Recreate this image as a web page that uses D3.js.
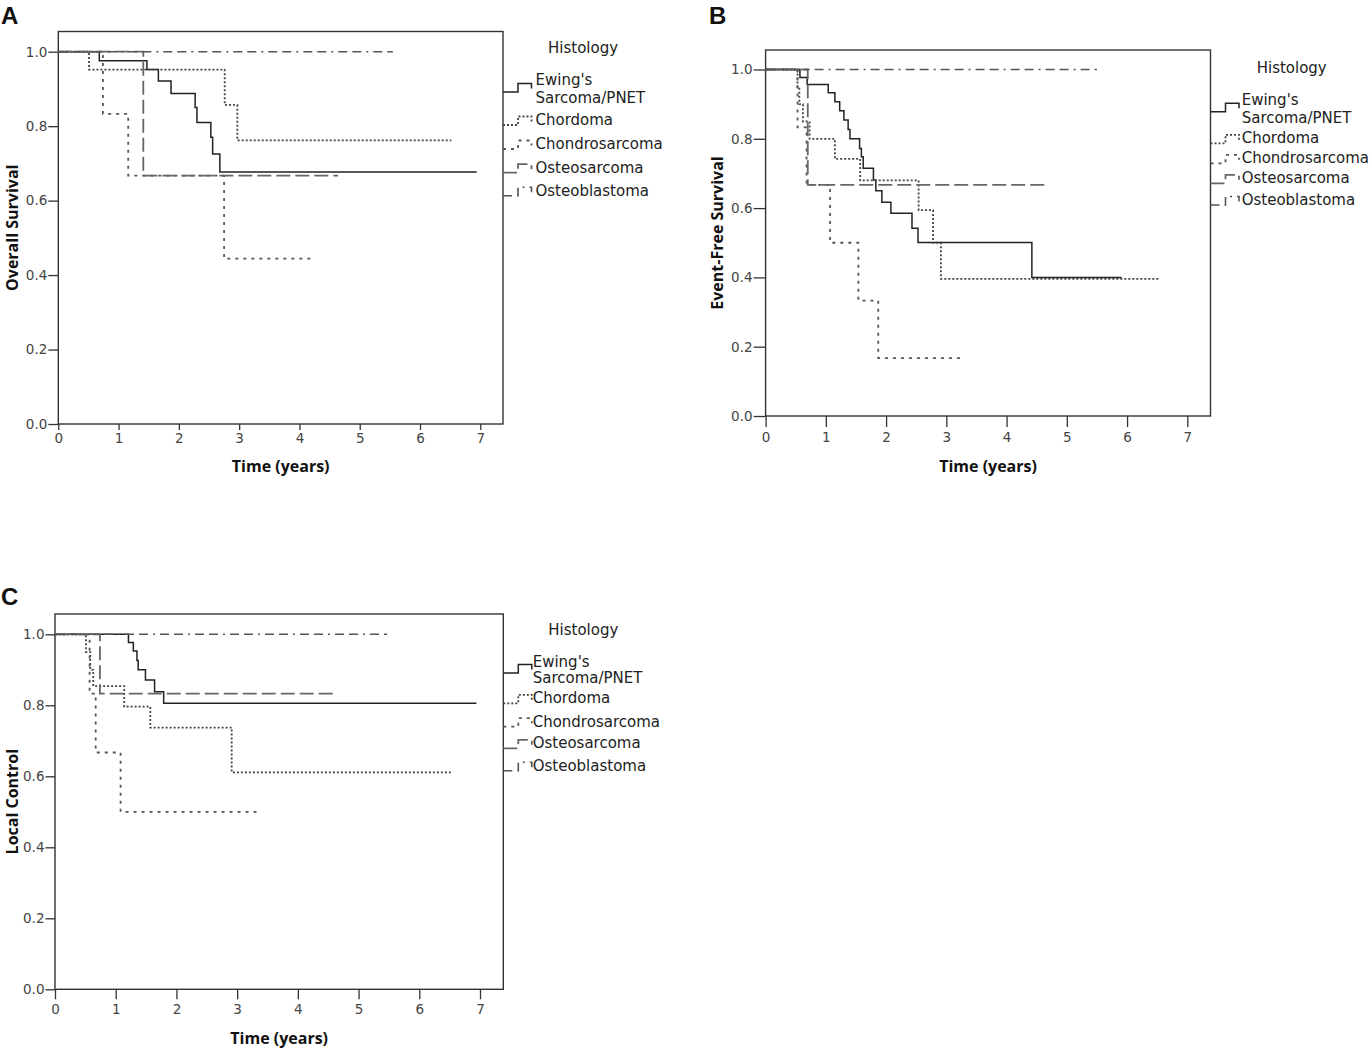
<!DOCTYPE html>
<html>
<head>
<meta charset="utf-8">
<script src="https://cdn.jsdelivr.net/npm/d3@7"></script>
<style>
  body { margin: 0; background: #fff; }
  .tick text { font-family: "DejaVu Sans", sans-serif; font-size: 13.5px; fill: #444; }
  .tick line { stroke: #333; stroke-width: 1.3; }
  .axis-title { font-family: "Open Sans", sans-serif; font-weight: bold; font-size: 16px; fill: #111; }
  .legend text { font-family: "DejaVu Sans", sans-serif; font-size: 15px; fill: #222; }
  .panel-label { font-family: "Liberation Sans", Arial, sans-serif; font-weight: bold; font-size: 24px; fill: #111; }
</style>
</head>
<body>
<script>
// histology groups, same order in every panel
var groups = ["Ewing's Sarcoma/PNET", "Chordoma", "Chondrosarcoma", "Osteosarcoma", "Osteoblastoma"];
var xTicks = [0, 1, 2, 3, 4, 5, 6, 7];
var yTicks = [0, 0.2, 0.4, 0.6, 0.8, 1.0];

// A: overall survival, step times (years) and survival after each step
var osTimes = [
    [0, 0.68, 1.47, 1.66, 1.87, 2.27, 2.30, 2.53, 2.56, 2.68, 6.94],
    [0, 0.51, 2.76, 2.97, 6.52],
    [0, 0.74, 1.16, 2.75, 4.23],
    [0, 1.41, 4.64],
    [0, 5.55]
];
var osSurv = [
    [1, 0.976, 0.952, 0.921, 0.888, 0.85, 0.81, 0.77, 0.725, 0.677, 0.677],
    [1, 0.952, 0.857, 0.762, 0.762],
    [1, 0.833, 0.667, 0.444, 0.444],
    [1, 0.667, 0.667],
    [1, 1]
];

// B: event-free survival
var efsTimes = [
    [0, 0.57, 0.69, 1.04, 1.15, 1.23, 1.30, 1.37, 1.40, 1.56, 1.59, 1.62, 1.79, 1.83, 1.93, 2.08, 2.43, 2.53, 4.42, 5.91],
    [0, 0.53, 0.56, 0.62, 0.73, 1.15, 1.57, 2.54, 2.78, 2.91, 6.52],
    [0, 0.53, 0.68, 1.07, 1.54, 1.87, 3.25],
    [0, 0.70, 4.66],
    [0, 5.50]
];
var efsSurv = [
    [1, 0.977, 0.957, 0.933, 0.907, 0.881, 0.854, 0.827, 0.80, 0.772, 0.748, 0.715, 0.681, 0.65, 0.617, 0.585, 0.542, 0.501, 0.40, 0.40],
    [1, 0.95, 0.90, 0.85, 0.80, 0.742, 0.68, 0.594, 0.50, 0.396, 0.396],
    [1, 0.833, 0.667, 0.5, 0.333, 0.167, 0.167],
    [1, 0.667, 0.667],
    [1, 1]
];

// C: local control
var lcTimes = [
    [0, 1.21, 1.29, 1.35, 1.37, 1.49, 1.64, 1.79, 6.94],
    [0, 0.51, 0.58, 0.63, 1.14, 1.57, 2.91, 6.52],
    [0, 0.57, 0.67, 1.08, 3.32],
    [0, 0.74, 4.64],
    [0, 5.47]
];
var lcSurv = [
    [1, 0.977, 0.953, 0.926, 0.90, 0.871, 0.838, 0.806, 0.806],
    [1, 0.95, 0.90, 0.854, 0.796, 0.737, 0.611, 0.611],
    [1, 0.833, 0.667, 0.5, 0.5],
    [1, 0.833, 0.833],
    [1, 1]
];

// line look per group
var strokes = ["#222", "#444", "#555", "#666", "#555"];
var dashes = [null, "2,2", "3,5", "14,5", "9,5,9,5,2,5"];
var widths = [1.5, 1.8, 1.8, 1.8, 1.6];

var svg = d3.select("body").append("svg")
    .attr("width", 1371)
    .attr("height", 1056);

function drawPanel(p, times, surv) {
    var x = d3.scaleLinear().domain([0, 7]).range([p.left, p.x7]);
    var y = d3.scaleLinear().domain([0, 1]).range([p.bottom, p.y1]);

    //panel letter
    svg.append("text").attr("class", "panel-label")
        .attr("x", p.labelX).attr("y", p.labelY).text(p.label);

    //frame
    svg.append("rect")
        .attr("x", p.left).attr("y", p.top)
        .attr("width", p.right - p.left).attr("height", p.bottom - p.top)
        .style("fill", "none").style("stroke", "#333").style("stroke-width", 1.4);

    var ya = svg.append("g")
        .attr("transform", "translate(" + p.left + ",0)")
        .call(d3.axisLeft(y).tickValues(yTicks).tickFormat(d3.format(".1f")).tickSize(p.yTick).tickPadding(1));
    ya.select(".domain").remove();

    var xa = svg.append("g")
        .attr("transform", "translate(0," + p.bottom + ")")
        .call(d3.axisBottom(x).tickValues(xTicks).tickFormat(d3.format("d")).tickSize(p.xTick).tickPadding(p.xPad));
    xa.select(".domain").remove();

    //axis titles
    svg.append("text").attr("class", "axis-title")
        .attr("text-anchor", "middle")
        .attr("x", (p.left + p.right) / 2).attr("y", p.bottom + p.xTitleOff)
        .text("Time (years)");
    svg.append("text").attr("class", "axis-title")
        .attr("text-anchor", "middle")
        .attr("transform", "translate(" + p.titleX + "," + ((p.top + p.bottom) / 2) + ") rotate(-90)")
        .text(p.yTitle);

    //step curves
    var line = d3.line()
        .curve(d3.curveStepAfter)
        .x(function(d){ return x(d[0]); })
        .y(function(d){ return y(d[1]); });

    groups.forEach(function(g, i){
        var pts = times[i].map(function(t, j){ return [t, surv[i][j]]; });
        svg.append("path")
            .datum(pts)
            .attr("d", line)
            .style("fill", "none")
            .style("stroke", strokes[i])
            .style("stroke-width", widths[i])
            .style("stroke-dasharray", dashes[i]);
    });

    //legend
    var lg = svg.append("g").attr("class", "legend");
    lg.append("text").attr("x", p.histX).attr("y", p.histY).text("Histology");
    groups.forEach(function(g, i){
        var b = p.rows[i];
        var sy = i === 0 ? (p.rows[0] + p.rowsEwing2) / 2 - 2 : b;
        lg.append("path")
            .attr("d", "M" + p.right + "," + sy + "H" + (p.right + 15) + "V" + (sy - 8.5) + "H" + (p.right + 28.5) + "V" + (sy - 3.5))
            .style("fill", "none")
            .style("stroke", strokes[i])
            .style("stroke-width", widths[i])
            .style("stroke-dasharray", dashes[i]);
        if (i === 0) {
            lg.append("text").attr("x", p.textX).attr("y", b).text("Ewing's");
            lg.append("text").attr("x", p.textX).attr("y", p.rowsEwing2).text("Sarcoma/PNET");
        } else {
            lg.append("text").attr("x", p.textX).attr("y", b).text(g);
        }
    });
}

drawPanel({
    label: "A", labelX: 1, labelY: 24,
    left: 58.3, right: 503, top: 31.5, bottom: 424, x7: 480.3, y1: 51.7,
    yTick: 10, xTick: 6, xPad: 3, xTitleOff: 48,
    titleX: 18, yTitle: "Overall Survival",
    histX: 548, histY: 53, textX: 535.5,
    rows: [85, 125, 149, 172.7, 195.7], rowsEwing2: 103
}, osTimes, osSurv);

drawPanel({
    label: "B", labelX: 709, labelY: 24,
    left: 765.6, right: 1210.5, top: 50, bottom: 416, x7: 1187.3, y1: 69.5,
    yTick: 12, xTick: 11, xPad: 5, xTitleOff: 56,
    titleX: 723, yTitle: "Event-Free Survival",
    histX: 1256.7, histY: 73.3, textX: 1241.7,
    rows: [105, 143.3, 163.3, 183.3, 205], rowsEwing2: 122.7
}, efsTimes, efsSurv);

drawPanel({
    label: "C", labelX: 1, labelY: 605,
    left: 55, right: 503.3, top: 614, bottom: 989.3, x7: 480, y1: 634.3,
    yTick: 9.5, xTick: 10, xPad: 5, xTitleOff: 55,
    titleX: 18, yTitle: "Local Control",
    histX: 548.3, histY: 635, textX: 532.7,
    rows: [666.7, 703.3, 726.7, 748.3, 770.7], rowsEwing2: 683.3
}, lcTimes, lcSurv);
</script>
</body>
</html>
